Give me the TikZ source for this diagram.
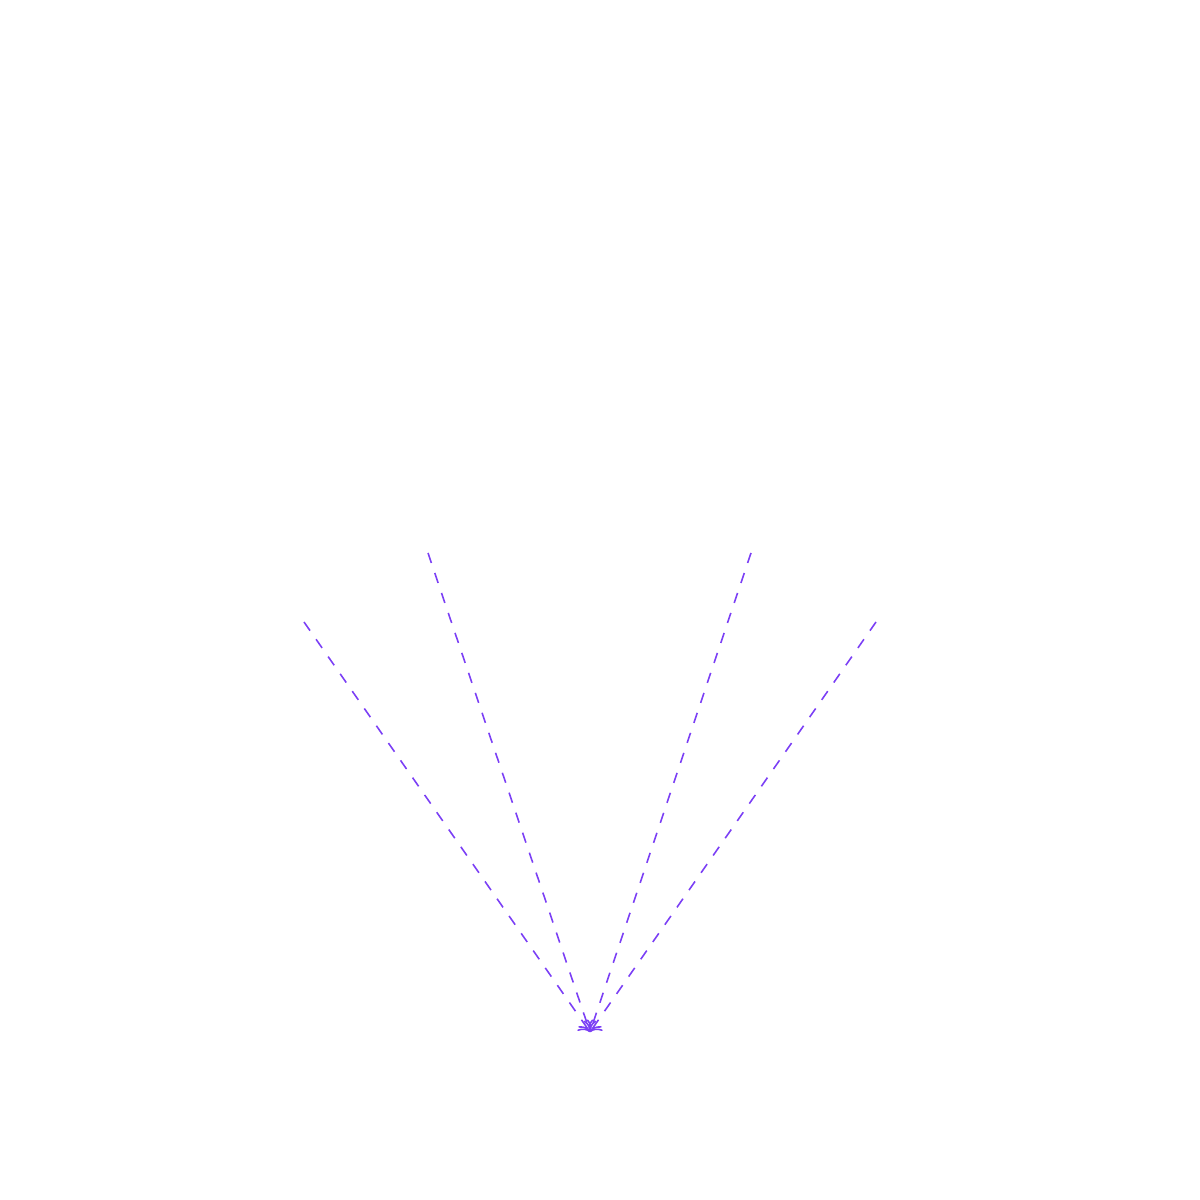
\documentclass[tikz,border=0pt]{standalone}
\usepackage{tikz}
\usetikzlibrary{positioning,calc,arrows.meta,arrows}
\definecolor{linkviolet}{HTML}{7B3FF5}
\tikzset{
    feedline/.style={->, dashed, draw=linkviolet, line width=0.45pt}
}

\begin{document}
\begin{tikzpicture}
    \useasboundingbox (0,0) rectangle (12,12);

    % Sources
    \coordinate (farleft) at (3.04,5.78);
    \coordinate (left) at (4.28,6.47);
    \coordinate (right) at (7.51,6.47);
    \coordinate (farright) at (8.76,5.78);

    % Sink
    \coordinate (sink) at (5.90,1.68);

    % Links into the sink
    \foreach \src in {farleft,left,right,farright}
        \draw [feedline] (\src) -- (sink);

\end{tikzpicture}
\end{document}
